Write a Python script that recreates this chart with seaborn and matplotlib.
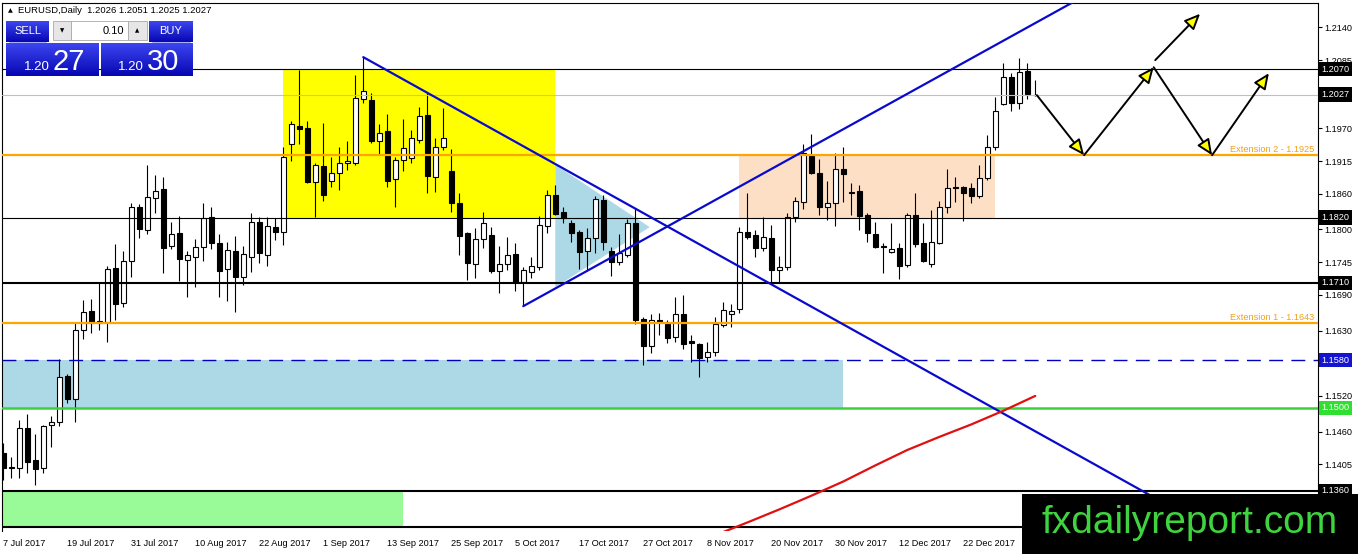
import numpy as np
import matplotlib
matplotlib.use("Agg")
import matplotlib.pyplot as plt
import seaborn as sns
from matplotlib.patches import Rectangle, Polygon
from matplotlib.colors import LinearSegmentedColormap

# EURUSD daily candles, one per trading day from 7 Jul 2017
opens = [1.1424, 1.1400, 1.1399, 1.1466, 1.1412, 1.1399, 1.1471, 1.1476, 1.1553, 1.1515,
         1.1631, 1.1663, 1.1643, 1.1644, 1.1735, 1.1676, 1.1747, 1.1838, 1.1799, 1.1853,
         1.1868, 1.1772, 1.1794, 1.1749, 1.1754, 1.1771, 1.1821, 1.1777, 1.1734, 1.1764,
         1.1720, 1.1754, 1.1813, 1.1757, 1.1804, 1.1796, 1.1944, 1.1974, 1.1971, 1.1880,
         1.1907, 1.1882, 1.1895, 1.1912, 1.1912, 1.2020, 1.2018, 1.1949, 1.1966, 1.1885,
         1.1917, 1.1920, 1.1951, 1.1993, 1.1888, 1.1939, 1.1898, 1.1845, 1.1794, 1.1742,
         1.1784, 1.1791, 1.1730, 1.1742, 1.1759, 1.1712, 1.1729, 1.1737, 1.1806, 1.1858,
         1.1829, 1.1811, 1.1796, 1.1764, 1.1786, 1.1850, 1.1764, 1.1745, 1.1757, 1.1811,
         1.1649, 1.1604, 1.1648, 1.1641, 1.1619, 1.1658, 1.1612, 1.1607, 1.1585, 1.1594,
         1.1639, 1.1658, 1.1666, 1.1796, 1.1791, 1.1769, 1.1786, 1.1732, 1.1737, 1.1821,
         1.1846, 1.1924, 1.1895, 1.1838, 1.1845, 1.1902, 1.1861, 1.1865, 1.1824, 1.1792,
         1.1772, 1.1762, 1.1769, 1.1740, 1.1824, 1.1777, 1.1742, 1.1777, 1.1838, 1.1871,
         1.1871, 1.1870, 1.1856, 1.1887, 1.1939, 1.2011, 1.2057, 1.2013, 1.2067, 1.2026]
highs = [1.1441, 1.1417, 1.1480, 1.1490, 1.1456, 1.1471, 1.1486, 1.1582, 1.1557, 1.1643,
         1.1681, 1.1683, 1.1710, 1.1739, 1.1776, 1.1764, 1.1845, 1.1843, 1.1908, 1.1892,
         1.1888, 1.1813, 1.1823, 1.1764, 1.1784, 1.1845, 1.1838, 1.1792, 1.1779, 1.1789,
         1.1772, 1.1828, 1.1821, 1.1821, 1.1819, 1.1939, 1.1983, 1.2068, 1.1983, 1.1912,
         1.1979, 1.1922, 1.1939, 1.1949, 1.2060, 1.2090, 1.2030, 1.1977, 1.1994, 1.1922,
         1.1986, 1.1967, 1.2006, 1.2031, 1.1954, 1.2004, 1.1935, 1.1861, 1.1796, 1.1802,
         1.1829, 1.1804, 1.1772, 1.1787, 1.1777, 1.1737, 1.1754, 1.1823, 1.1866, 1.1875,
         1.1838, 1.1816, 1.1799, 1.1802, 1.1856, 1.1858, 1.1771, 1.1792, 1.1818, 1.1836,
         1.1653, 1.1658, 1.1659, 1.1648, 1.1686, 1.1690, 1.1622, 1.1609, 1.1611, 1.1653,
         1.1678, 1.1675, 1.1804, 1.1861, 1.1799, 1.1821, 1.1808, 1.1755, 1.1828, 1.1855,
         1.1944, 1.1961, 1.1919, 1.1882, 1.1929, 1.1939, 1.1878, 1.1875, 1.1828, 1.1813,
         1.1777, 1.1811, 1.1777, 1.1828, 1.1861, 1.1811, 1.1833, 1.1848, 1.1902, 1.1888,
         1.1873, 1.1878, 1.1908, 1.1959, 1.2023, 1.2080, 1.2063, 1.2089, 1.2080, 1.2051]
lows = [1.1379, 1.1382, 1.1382, 1.1390, 1.1370, 1.1390, 1.1434, 1.1469, 1.1508, 1.1476,
        1.1616, 1.1626, 1.1631, 1.1611, 1.1648, 1.1670, 1.1720, 1.1786, 1.1792, 1.1828,
        1.1727, 1.1767, 1.1713, 1.1686, 1.1703, 1.1747, 1.1767, 1.1686, 1.1680, 1.1661,
        1.1707, 1.1729, 1.1744, 1.1739, 1.1782, 1.1774, 1.1915, 1.1944, 1.1878, 1.1821,
        1.1848, 1.1871, 1.1866, 1.1900, 1.1908, 1.2013, 1.1946, 1.1927, 1.1871, 1.1838,
        1.1898, 1.1912, 1.1946, 1.1861, 1.1863, 1.1934, 1.1829, 1.1757, 1.1715, 1.1718,
        1.1769, 1.1727, 1.1693, 1.1732, 1.1696, 1.1671, 1.1718, 1.1732, 1.1794, 1.1824,
        1.1811, 1.1779, 1.1734, 1.1732, 1.1760, 1.1766, 1.1722, 1.1740, 1.1754, 1.1641,
        1.1572, 1.1592, 1.1622, 1.1609, 1.1611, 1.1599, 1.1577, 1.1552, 1.1577, 1.1587,
        1.1636, 1.1636, 1.1659, 1.1784, 1.1754, 1.1764, 1.1712, 1.1710, 1.1732, 1.1813,
        1.1834, 1.1893, 1.1824, 1.1816, 1.1806, 1.1846, 1.1824, 1.1799, 1.1779, 1.1769,
        1.1727, 1.1760, 1.1717, 1.1737, 1.1771, 1.1745, 1.1737, 1.1776, 1.1828, 1.1846,
        1.1814, 1.1845, 1.1853, 1.1883, 1.1934, 1.2009, 1.1999, 1.2003, 1.2020, 1.2025]
closes = [1.1399, 1.1399, 1.1466, 1.1409, 1.1397, 1.1469, 1.1476, 1.1552, 1.1515, 1.1631,
          1.1661, 1.1643, 1.1646, 1.1734, 1.1675, 1.1747, 1.1838, 1.1801, 1.1855, 1.1865,
          1.1769, 1.1792, 1.1750, 1.1757, 1.1771, 1.1819, 1.1777, 1.1730, 1.1766, 1.1720,
          1.1759, 1.1813, 1.1760, 1.1806, 1.1796, 1.1922, 1.1977, 1.1969, 1.1880, 1.1908,
          1.1858, 1.1895, 1.1912, 1.1915, 1.2021, 1.2033, 1.1949, 1.1962, 1.1882, 1.1917,
          1.1937, 1.1954, 1.1991, 1.1890, 1.1939, 1.1954, 1.1845, 1.1789, 1.1744, 1.1784,
          1.1811, 1.1730, 1.1742, 1.1757, 1.1712, 1.1732, 1.1739, 1.1808, 1.1858, 1.1826,
          1.1819, 1.1794, 1.1762, 1.1786, 1.1851, 1.1779, 1.1745, 1.1760, 1.1811, 1.1648,
          1.1604, 1.1648, 1.1644, 1.1617, 1.1658, 1.1607, 1.1609, 1.1584, 1.1594, 1.1641,
          1.1665, 1.1663, 1.1796, 1.1787, 1.1769, 1.1787, 1.1732, 1.1737, 1.1821, 1.1848,
          1.1929, 1.1895, 1.1838, 1.1845, 1.1902, 1.1893, 1.1863, 1.1823, 1.1794, 1.1771,
          1.1771, 1.1767, 1.1739, 1.1824, 1.1776, 1.1747, 1.1779, 1.1838, 1.1870, 1.1869,
          1.1861, 1.1856, 1.1887, 1.1939, 1.1999, 1.2057, 1.2013, 1.2065, 1.2028, 1.2027]

# one date label every 8 bars
date_labels = ['7 Jul 2017', '19 Jul 2017', '31 Jul 2017', '10 Aug 2017', '22 Aug 2017',
               '1 Sep 2017', '13 Sep 2017', '25 Sep 2017', '5 Oct 2017', '17 Oct 2017',
               '27 Oct 2017', '8 Nov 2017', '20 Nov 2017', '30 Nov 2017', '12 Dec 2017',
               '22 Dec 2017']
price_ticks = [1.2140, 1.2085, 1.1970, 1.1915, 1.1860, 1.1800, 1.1745, 1.1690, 1.1630,
               1.1575, 1.1520, 1.1460, 1.1405]

# horizontal levels
level_prices = [1.2070, 1.2027, 1.1925, 1.1820, 1.1710, 1.1643, 1.1580, 1.1500, 1.1360, 1.1300]
box_levels = [1.2070, 1.2027, 1.1820, 1.1710, 1.1580, 1.1500, 1.1360]
extension_levels = [1.1925, 1.1643]
extension_names = ['Extension 2', 'Extension 1']

# zones: (first bar, last bar, low, high)
zone_yellow = (35, 69, 1.1817, 1.2068)
zone_peach = (92, 124, 1.1820, 1.1925)
zone_blue = (-0.2, 105, 1.1500, 1.1580)
zone_green = (-0.2, 50, 1.1300, 1.1360)
triangle = [(69, 1.1909), (69, 1.1703), (80.8, 1.1804)]

# trend lines (bar, price)
trend_down = [(45, 1.2090), (146, 1.1333)]
trend_up = [(65, 1.1671), (135, 1.2192)]

# moving average
ma_bars = [86, 90, 93, 97, 101, 105, 109, 113, 117, 121, 125, 129]
ma_vals = [1.1270, 1.1291, 1.1307, 1.1329, 1.1352, 1.1376, 1.1403, 1.1429, 1.1451, 1.1472,
           1.1495, 1.1520]

# projected path arrows (bar, price)
arrow_from = [(129.2, 1.2026), (135.1, 1.1925), (143.8, 1.2073), (151.1, 1.1925), (144.0, 1.2085)]
arrow_to = [(135.1, 1.1925), (143.8, 1.2073), (151.1, 1.1925), (158.2, 1.2063), (149.6, 1.2163)]

sns.set_style("white")
plt.rcParams['font.family'] = ['Liberation Sans', 'DejaVu Sans']

fig = plt.figure(figsize=(13.58, 5.54), dpi=100)
ax = fig.add_axes([0.00169, 0.04152, 0.96885, 0.95361])
ax.set_xlim(-0.125, 164.34)
ax.set_ylim(1.12927, 1.21816)

# zones
for (b0, b1, lo, hi), col in zip([zone_yellow, zone_peach, zone_blue, zone_green],
                                 ['#ffff00', '#fcdfc4', '#add8e6', '#98fb98']):
    ax.add_patch(Rectangle((b0, lo), b1 - b0, hi - lo, facecolor=col, edgecolor='none', zorder=1))
ax.add_patch(Polygon(triangle, closed=True, facecolor='#add8e6', edgecolor='none', zorder=1))

# candles
x = np.arange(len(opens))
o = np.array(opens)
c = np.array(closes)
bull = c >= o
ax.vlines(x, lows, highs, color='black', lw=0.8, zorder=3)
ax.bar(x, np.maximum(np.abs(c - o), 0.00002), bottom=np.minimum(o, c), width=0.6,
       color=np.where(bull, 'white', 'black'), edgecolor='black', linewidth=0.8, zorder=3.5)

# levels
level_style = {
    1.2070: ('black', 0.8, '-'),
    1.2027: ('#c0c0c0', 0.8, '-'),
    1.1925: ('#ffa500', 1.6, '-'),
    1.1820: ('black', 0.8, '-'),
    1.1710: ('black', 1.5, '-'),
    1.1643: ('#ffa500', 1.6, '-'),
    1.1580: ('#0000c0', 1.0, (0, (10, 6))),
    1.1500: ('#3ad23a', 1.8, '-'),
    1.1360: ('black', 1.5, '-'),
    1.1300: ('black', 1.5, '-'),
}
for p in level_prices:
    col, lw, ls = level_style[p]
    ax.axhline(p, color=col, lw=lw, ls=ls, zorder=4)

for p, name in zip(extension_levels, extension_names):
    ax.text(163.9, p + 0.0002, f'{name} - {p:.4f}', ha='right', va='bottom',
            fontsize=6.6, color='#f0a020', zorder=5)

# trend lines and moving average
for line in [trend_down, trend_up]:
    ax.plot([line[0][0], line[1][0]], [line[0][1], line[1][1]], color='#0a0acd', lw=1.6, zorder=5)
sns.lineplot(x=ma_bars, y=ma_vals, ax=ax, color='#e01010', lw=1.6, zorder=5)

for start, end in zip(arrow_from, arrow_to):
    ax.annotate('', xy=end, xytext=start,
                arrowprops=dict(arrowstyle='-|>,head_length=0.95,head_width=0.42', mutation_scale=10,
                                fc='#ffff00', ec='black', lw=1.4, shrinkA=0, shrinkB=0),
                zorder=6)

# axes styling
ax.yaxis.tick_right()
ax.set_yticks(price_ticks)
ax.set_yticklabels([f'{p:.4f}' for p in price_ticks])
ax.set_xticks(np.arange(len(date_labels)) * 8)
ax.set_xticklabels(date_labels, ha='left')
ax.tick_params(axis='y', direction='out', length=3, width=0.8, pad=1.5, labelsize=6.6, colors='black')
ax.tick_params(axis='x', direction='out', length=3, width=0.8, pad=2.5, labelsize=6.6, colors='black')
ax.spines['bottom'].set_visible(False)
for side in ['left', 'top', 'right']:
    ax.spines[side].set_color('black')
    ax.spines[side].set_linewidth(0.8)
ax.set_xlabel('')
ax.set_ylabel('')
ax.grid(False)

ytrans = ax.get_yaxis_transform()
box_colors = {1.1580: '#1414d0', 1.1500: '#30e030'}
for p in box_levels:
    ax.text(1.0027, p, f'{p:.4f}', transform=ytrans, ha='left', va='center', fontsize=6.6,
            color='white', clip_on=False, zorder=7,
            bbox=dict(boxstyle='square,pad=0.3', fc=box_colors.get(p, 'black'), ec='none'))

# overlay: trade panel, header and watermark
ov = fig.add_axes([0, 0, 1, 1], zorder=10)
ov.axis('off')
blue = LinearSegmentedColormap.from_list('mtblue', ['#3c46f0', '#0606b2'])
grad = np.linspace(0, 1, 64).reshape(-1, 1)
for x0, y0, x1, y1 in [(6, 21, 49, 42), (149, 21, 193, 42), (6, 43, 99, 76), (101, 43, 193, 76)]:
    ov.imshow(grad, extent=(x0, x1, y1, y0), cmap=blue, aspect='auto', interpolation='bilinear', zorder=1)
ov.add_patch(Rectangle((53, 21), 18, 19, fc='#e6e6e6', ec='#a8a8a8', lw=0.6, zorder=2))
ov.add_patch(Rectangle((71, 21), 57, 19, fc='white', ec='#a8a8a8', lw=0.6, zorder=2))
ov.add_patch(Rectangle((128, 21), 19, 19, fc='#e6e6e6', ec='#a8a8a8', lw=0.6, zorder=2))
ov.plot([9, 46], [41.5, 41.5], color='#9aa0ff', lw=0.6, zorder=3)
ov.plot([152, 190], [41.5, 41.5], color='#9aa0ff', lw=0.6, zorder=3)
ov.text(27.5, 31, 'SELL', ha='center', va='center', color='white', fontsize=8, zorder=3)
ov.text(171, 31, 'BUY', ha='center', va='center', color='white', fontsize=8, zorder=3)
ov.text(124, 30.5, '0.10', ha='right', va='center', color='black', fontsize=8, zorder=3)
ov.text(62, 30.5, '▼', ha='center', va='center', color='black', fontsize=4, family='DejaVu Sans', zorder=3)
ov.text(137.5, 30.5, '▲', ha='center', va='center', color='black', fontsize=4, family='DejaVu Sans', zorder=3)
ov.text(49.5, 70, '1.20', ha='right', va='baseline', color='white', fontsize=9.5, zorder=3)
ov.text(53, 70, '27', ha='left', va='baseline', color='white', fontsize=21, zorder=3)
ov.text(143.5, 70, '1.20', ha='right', va='baseline', color='white', fontsize=9.5, zorder=3)
ov.text(147, 70, '30', ha='left', va='baseline', color='white', fontsize=21, zorder=3)

ov.text(10, 10.5, '▲', ha='center', va='center', color='black', fontsize=4.5, family='DejaVu Sans')
ov.text(18, 10.5, 'EURUSD,Daily  1.2026 1.2051 1.2025 1.2027', ha='left', va='center',
        color='black', fontsize=6.8)

ov.add_patch(Rectangle((1022, 494), 336, 60, fc='black', ec='none', zorder=4))
ov.text(1190, 533, 'fxdailyreport.com', ha='center', va='baseline', color='#3fd43f',
        fontsize=28, zorder=5)
ov.set_xlim(0, 1358)
ov.set_ylim(554, 0)

fig.savefig('out.png', dpi=100)
plt.close(fig)
